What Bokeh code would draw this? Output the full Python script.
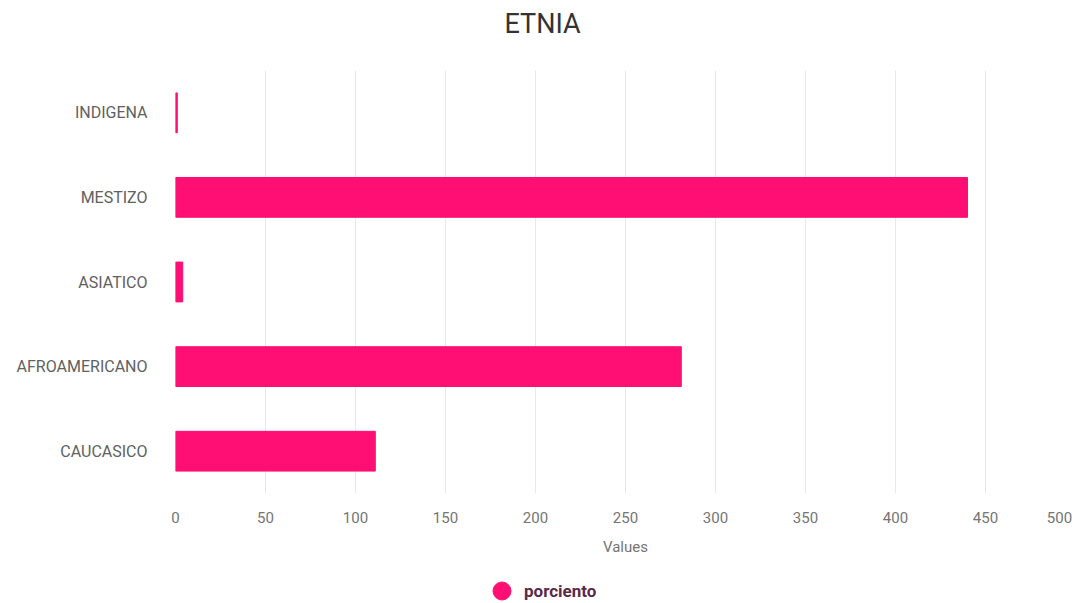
from bokeh.plotting import figure
from bokeh.layouts import column
from bokeh.models import (Range1d, FactorRange, FixedTicker, Legend, LegendItem,
                          LinearAxis, Title, ColumnDataSource)
from bokeh.embed import file_html
from bokeh.resources import INLINE

categories = ["INDIGENA", "MESTIZO", "ASIATICO", "AFROAMERICANO", "CAUCASICO"]
values = [1, 440, 4, 281, 111]
x_ticks = [0, 50, 100, 150, 200, 250, 300, 350, 400, 450, 500]
series_name = "porciento"
title_text = "ETNIA"
axis_title = "Values"

BAR = "#ff0f73"
FONT = "Roboto"
W = 1076
LEFT = 175
RIGHT = 1
FRAME_W = W - LEFT - RIGHT

p = figure(width=W, height=560, output_backend="svg", toolbar_location=None,
           title=None,
           y_range=FactorRange(factors=categories[::-1]),
           x_range=Range1d(x_ticks[0], x_ticks[-1]),
           min_border_left=LEFT, min_border_right=RIGHT, min_border_top=70,
           min_border_bottom=67, outline_line_color=None,
           background_fill_color="white", border_fill_color="white")

src = ColumnDataSource(dict(cat=categories, val=values))
p.hbar(y="cat", right="val", left=0, height=0.47, source=src,
       fill_color=BAR, line_color=BAR)

# spacer between title and plot area, then the title itself
p.add_layout(Title(text=" ", text_font_size="1px", standoff=28), "above")
p.add_layout(Title(text=title_text, align="left", offset=329, standoff=0,
                   text_font=FONT, text_font_size="27px", text_font_style="normal",
                   text_color="#333333"), "above")

# main x axis (ticks 0..450)
xa = p.xaxis[0]
xa.ticker = FixedTicker(ticks=x_ticks)
xa.major_label_overrides = {x_ticks[-1]: ""}
xa.axis_line_color = None
xa.major_tick_line_color = None
xa.minor_tick_line_color = None
xa.major_label_text_font = FONT
xa.major_label_text_font_size = "15px"
xa.major_label_text_color = "#757575"
xa.major_label_standoff = 12

# second axis carrying the last tick label, nudged left so it fits the window
shift_px = 16
span = x_ticks[-1] - x_ticks[0]
d = shift_px * span / FRAME_W
p.extra_x_ranges = {"shift": Range1d(x_ticks[0] + d, x_ticks[-1] + d)}
xb = LinearAxis(x_range_name="shift", ticker=FixedTicker(ticks=[x_ticks[-1]]))
xb.axis_line_color = None
xb.major_tick_line_color = None
xb.minor_tick_line_color = None
xb.major_label_text_font = FONT
xb.major_label_text_font_size = "15px"
xb.major_label_text_color = "#757575"
xb.major_label_standoff = -20
xb.axis_label = axis_title
xb.axis_label_text_font = FONT
xb.axis_label_text_font_size = "15px"
xb.axis_label_text_font_style = "normal"
xb.axis_label_text_color = "#757575"
xb.axis_label_standoff = 12
p.add_layout(xb, "below")

ya = p.yaxis[0]
ya.axis_line_color = None
ya.major_tick_line_color = None
ya.minor_tick_line_color = None
ya.major_label_text_font = FONT
ya.major_label_text_font_size = "16px"
ya.major_label_text_color = "#616161"
ya.major_label_standoff = 22

p.xgrid.ticker = FixedTicker(ticks=x_ticks)
p.xgrid.grid_line_color = "#e8e8e8"
p.ygrid.grid_line_color = None

# legend strip
q = figure(width=W, height=43, output_backend="svg", toolbar_location=None,
           x_range=Range1d(0, 1), y_range=Range1d(0, 1), min_border=0,
           outline_line_color=None, background_fill_color="white",
           border_fill_color="white")
q.axis.visible = False
q.grid.grid_line_color = None
nan = float("nan")
leg_r = q.scatter(x=[nan], y=[nan], marker="circle", size=18,
                  fill_color=BAR, line_color=BAR)
legend = Legend(items=[LegendItem(label=series_name, renderers=[leg_r])],
                location=(304, -10), orientation="horizontal",
                label_text_font=FONT, label_text_font_size="17px",
                label_text_font_style="bold",
                label_text_color="#5a2a4a", border_line_color=None,
                background_fill_alpha=0, glyph_width=45, glyph_height=45,
                padding=0, margin=0, label_standoff=-2)
q.add_layout(legend, "center")

open("out.html", "w").write(file_html(column(p, q, spacing=0), INLINE))
